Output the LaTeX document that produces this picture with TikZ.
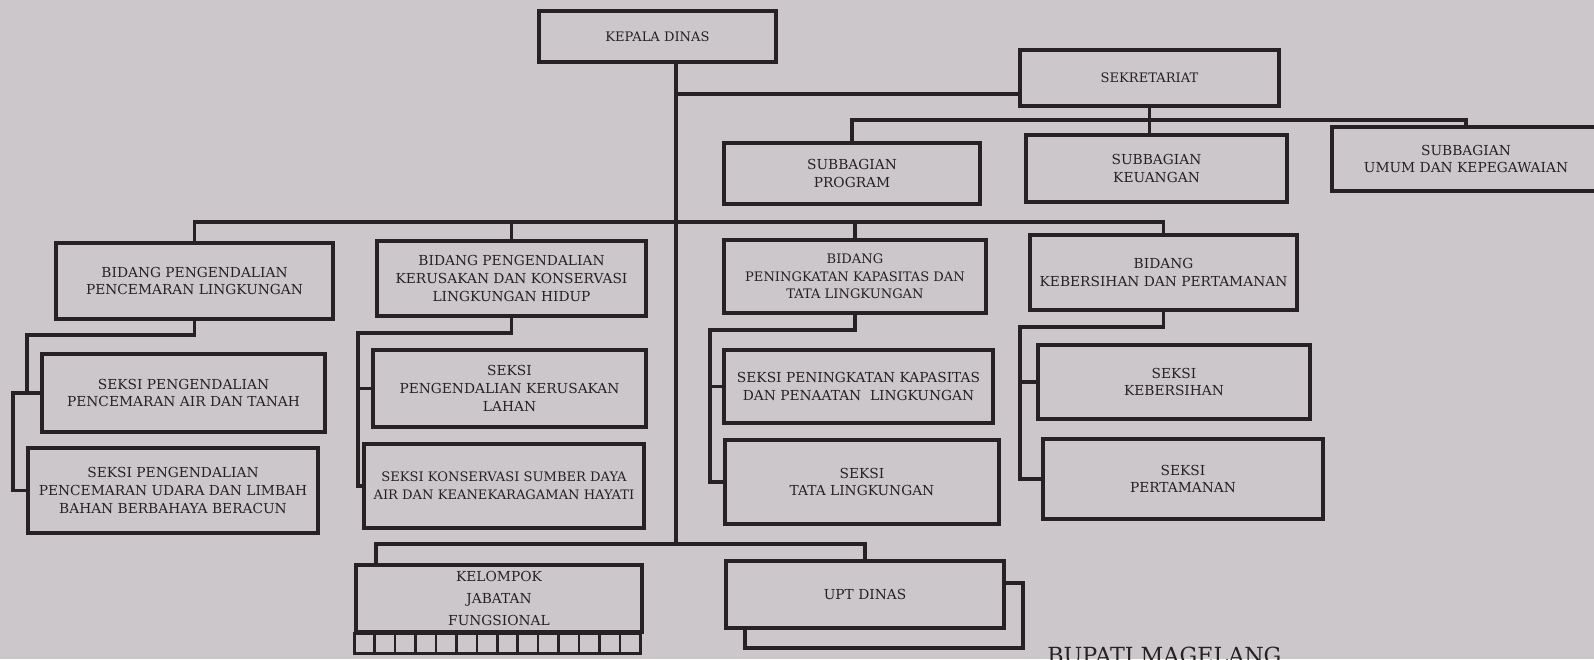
\documentclass[tikz,border=0pt]{standalone}
\usepackage{fontspec}
\setmainfont{DejaVu Serif}
\usepackage{tikz}
\usetikzlibrary{positioning, calc}
\definecolor{paper}{RGB}{203,199,202}
\definecolor{ink}{RGB}{40,33,35}

\begin{document}
\begin{tikzpicture}[x=0.025cm, y=-0.025cm,
  sz/.style 2 args={minimum width=#1*0.25mm, minimum height=#2*0.25mm},
  box/.style={draw=ink, fill=paper, line width=2.4pt, inner sep=1pt, align=center,
    text=ink, font=\fontsize{9.8}{12.5}\selectfont},
  smalltext/.style={font=\fontsize{9.3}{12.5}\selectfont},
  link/.style={draw=ink, line width=2.2pt}]
  \useasboundingbox (0,0) rectangle (1594,659);
  \clip (0,0) rectangle (1594,659);
  \fill[paper] (0,0) rectangle (1594,659);
  % top level
  \node[box, smalltext, sz={237}{51}] (kd) at (657.5,36.5) {KEPALA DINAS};
  \node[box, smalltext, sz={259}{56}] (sek) at (1149.5,78) {SEKRETARIAT};
  % subbagian
  \node[box, sz={256}{61}] (prog) at (852,173.5) {SUBBAGIAN\\PROGRAM};
  \node[box, sz={261}{67}] (keu) at (1156.5,168.5) {SUBBAGIAN\\KEUANGAN};
  \node[box, sz={268}{64}] (umum) at (1466,159) {SUBBAGIAN\\UMUM DAN KEPEGAWAIAN};
  % bidang
  \node[box, sz={277}{76}] (b1) at (194.5,281) {BIDANG PENGENDALIAN\\PENCEMARAN LINGKUNGAN};
  \node[box, sz={269}{75}] (b2) at (511.5,278.5) {BIDANG PENGENDALIAN\\KERUSAKAN DAN KONSERVASI\\LINGKUNGAN HIDUP};
  \node[box, smalltext, sz={262}{73}] (b3) at (855,276.5) {BIDANG\\PENINGKATAN KAPASITAS DAN\\TATA LINGKUNGAN};
  \node[box, sz={267}{75}] (b4) at (1163.5,272.5) {BIDANG\\KEBERSIHAN DAN PERTAMANAN};
  % seksi
  \node[box, sz={283}{78}] (s11) at (183.5,393) {SEKSI PENGENDALIAN\\PENCEMARAN AIR DAN TANAH};
  \node[box, sz={290}{85}] (s12) at (173,490.5) {SEKSI PENGENDALIAN\\PENCEMARAN UDARA DAN LIMBAH\\BAHAN BERBAHAYA BERACUN};
  \node[box, sz={273}{77}] (s21) at (509.5,388.5) {SEKSI\\PENGENDALIAN KERUSAKAN\\LAHAN};
  \node[box, smalltext, sz={280}{84}] (s22) at (504,486) {SEKSI KONSERVASI SUMBER DAYA\\AIR DAN KEANEKARAGAMAN HAYATI};
  \node[box, sz={269}{73}] (s31) at (858.5,386.5) {SEKSI PENINGKATAN KAPASITAS\\DAN PENAATAN\ \ LINGKUNGAN};
  \node[box, sz={274}{84}] (s32) at (862,482) {SEKSI\\TATA LINGKUNGAN};
  \node[box, sz={272}{74}] (s41) at (1174,382) {SEKSI\\KEBERSIHAN};
  \node[box, sz={280}{80}] (s42) at (1183,479) {SEKSI\\PERTAMANAN};
  % bottom row
  \node[box, font=\fontsize{9.8}{15.6}\selectfont, sz={286}{67}] (kjf) at (499,598.5) {KELOMPOK\\JABATAN\\FUNGSIONAL};
  \foreach \i in {0,...,13}
    \draw[ink, line width=1.8pt] ($(kjf.south west)+(\i*286/14,0)$) rectangle ++(286/14,20);
  \node[box, sz={278}{65}] (uptback) at (884,615.5) {};
  \node[box, sz={278}{67}] (upt) at (865,594.5) {UPT DINAS};
  \node[anchor=north west, inner sep=0, text=ink, font=\fontsize{15.8}{18}\selectfont] (bupati) at (1047,647) {BUPATI MAGELANG};

  % trunk and sekretariat
  \coordinate (tb) at (676,544);
  \coordinate (js) at (676,94);
  \coordinate (jsb) at (1149.5,120);
  \draw[link] (kd.south -| tb) -- (tb);
  \draw[link] (js) -- (js -| sek.west);
  \draw[link] (sek.south) -- (sek.south |- keu.north);
  \draw[link] (prog.north) |- (jsb) -| (umum.north);
  % bidang bar
  \coordinate (jb) at (676,222);
  \draw[link] (b1.north) |- (jb) -| (b4.north);
  \draw[link] (b2.north) -- (b2.north |- jb);
  \draw[link] (b3.north) -- (b3.north |- jb);
  % seksi lines
  \coordinate (c1) at (27,335);
  \coordinate (d1) at (13,0);
  \draw[link] (b1.south) |- (c1) |- (s11.west);
  \draw[link] (c1 |- s11.west) -| (d1 |- s12.west) -- (s12.west);
  \coordinate (c2) at (358,333);
  \draw[link] (b2.south) |- (c2) |- (s22.west);
  \draw[link] (c2 |- s21.west) -- (s21.west);
  \coordinate (c3) at (710,330);
  \draw[link] (b3.south) |- (c3) |- (s32.west);
  \draw[link] (c3 |- s31.west) -- (s31.west);
  \coordinate (c4) at (1020,327);
  \draw[link] (b4.south) |- (c4) |- (s42.west);
  \draw[link] (c4 |- s41.west) -- (s41.west);
  % bottom bar
  \coordinate (kb) at (376,544);
  \draw[link] (kjf.north -| kb) -- (kb) -| (upt.north);
\end{tikzpicture}
\end{document}
